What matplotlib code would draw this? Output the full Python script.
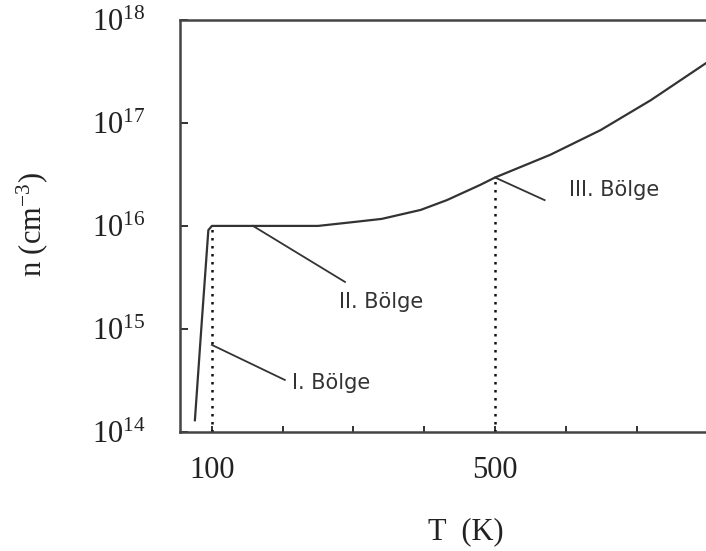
import numpy as np
import matplotlib
matplotlib.use("Agg")
import matplotlib.pyplot as plt

plt.rcParams['font.family'] = ['Liberation Serif', 'DejaVu Serif']
plt.rcParams['mathtext.fontset'] = 'custom'
plt.rcParams['mathtext.rm'] = 'Liberation Serif'
plt.rcParams['mathtext.it'] = 'Liberation Serif:italic'

# carrier concentration vs temperature
T = [76, 85, 95, 100, 150, 250, 300, 340, 395, 432, 479, 500, 578, 649, 720, 798]
n = [1.3e14, 1.0e15, 9.1e15, 1.0e16, 1.0e16, 1.0e16, 1.09e16, 1.17e16,
     1.43e16, 1.78e16, 2.5e16, 2.95e16, 4.9e16, 8.5e16, 1.66e17, 3.8e17]

# region markers
T_marks = [100, 500]
n_marks = [1.0e16, 2.95e16]

# region labels: (text, line start, line end, text position)
labels = ["I. Bölge", "II. Bölge", "III. Bölge"]
line_start = [(100, 7.0e14), (158, 1.0e16), (500, 2.95e16)]
line_end = [(203, 3.2e14), (288, 2.86e15), (570, 1.78e16)]
text_pos = [(213, 3.0e14), (279, 1.84e15), (604, 2.25e16)]

xticks = [100, 200, 300, 400, 500, 600, 700]
xticklabels = ["100", "", "", "", "500", "", ""]
yticks = [1e14, 1e15, 1e16, 1e17, 1e18]
yticklabels = ["$10^{14}$", "$10^{15}$", "$10^{16}$", "$10^{17}$", "$10^{18}$"]

fig = plt.figure(figsize=(7.06, 5.51), dpi=100)
ax = fig.add_axes([0.255, 0.216, 0.745, 0.748])

ax.plot(T, n, color='#333333', lw=1.6)
for t, v in zip(T_marks, n_marks):
    ax.plot([t, t], [1e14, v], color='#111111', lw=1.8, linestyle=(0, (1, 2.2)))

for lab, p0, p1, pt in zip(labels, line_start, line_end, text_pos):
    ax.plot([p0[0], p1[0]], [p0[1], p1[1]], color='#333333', lw=1.3)
    ax.text(pt[0], pt[1], lab, family='DejaVu Sans', fontsize=15,
            color='#333333', ha='left', va='center')

ax.set_yscale('log')
ax.set_xlim(55, 798)
ax.set_ylim(1e14, 1e18)
ax.set_xticks(xticks)
ax.set_xticklabels(xticklabels)
ax.set_yticks(yticks)
ax.set_yticklabels(yticklabels)
ax.minorticks_off()
ax.tick_params(axis='x', direction='in', length=4, width=1.3, pad=17,
               labelsize=22, colors='#222222')
ax.tick_params(axis='y', direction='in', length=6, width=1.3, pad=25,
               labelsize=22, colors='#222222')

ax.spines['right'].set_visible(False)
for s in ['left', 'top', 'bottom']:
    ax.spines[s].set_linewidth(1.8)
    ax.spines[s].set_color('#444444')

fig.text(466 / 706, 1 - 532 / 551, "T  (K)", fontsize=22, ha='center',
         va='center', color='#222222')
fig.text(32 / 706, 1 - 225 / 551, "n (cm$^{-3}$)", fontsize=22, ha='center',
         va='center', rotation=90, color='#222222')

fig.savefig("out.png", dpi=100)
